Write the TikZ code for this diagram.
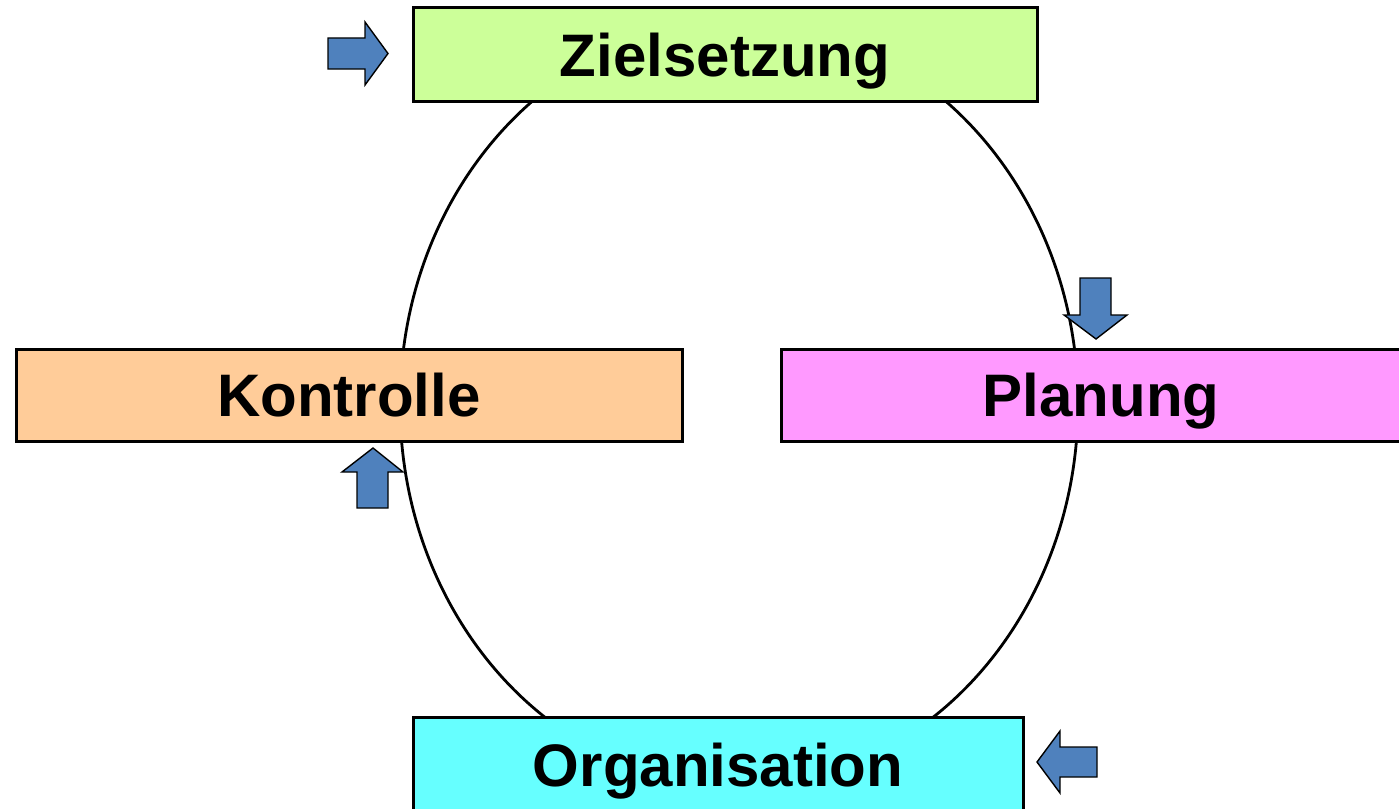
\documentclass[tikz,border=0pt]{standalone}
\usepackage{fontspec}
\setmainfont{Liberation Sans}
\begin{document}
\begin{tikzpicture}[x=1pt,y=-1pt,
  stage/.style={draw=black,line width=3pt,rectangle,inner sep=0pt,text depth=0pt,
    font=\fontsize{60}{60}\selectfont\bfseries},
  cycle/.style={draw=black,line width=2.8pt},
  flowarrow/.style={draw=black,line width=1.4pt,fill=arrowblue,line join=miter}]
\definecolor{arrowblue}{HTML}{4F81BD}
\definecolor{zielfill}{HTML}{CCFF99}
\definecolor{kontrfill}{HTML}{FFCC99}
\definecolor{planfill}{HTML}{FF99FF}
\definecolor{orgfill}{HTML}{66FFFF}
\useasboundingbox (0,0) rectangle (1399,808);
\clip (0,0) rectangle (1399,808);

% the cycle behind the stages
\draw[cycle] (739,404) ellipse [x radius=339pt, y radius=382pt];

% stages
\node[stage,fill=zielfill,minimum width=624pt,minimum height=93pt] (ziel) at (725,54.5) {Zielsetzung};
\node[stage,fill=kontrfill,minimum width=666pt,minimum height=92pt] (kontr) at (349,395) {Kontrolle};
\node[stage,fill=planfill,minimum width=640pt,minimum height=92pt] (plan) at (1101,395) {Planung};
\node[stage,fill=orgfill,minimum width=610pt,minimum height=96pt] (org) at (718,765) {Organisation};

% block arrows showing the direction of the cycle
\draw[flowarrow] (328,38) -- (365,38) -- (365,22) -- (388,53.5) -- (365,85) -- (365,69) -- (328,69) -- cycle;
\draw[flowarrow] (1080,278) -- (1111,278) -- (1111,315) -- (1127,315) -- (1096,339) -- (1064,315) -- (1080,315) -- cycle;
\draw[flowarrow] (1097,747) -- (1060,747) -- (1060,731) -- (1037,762) -- (1060,793) -- (1060,777) -- (1097,777) -- cycle;
\draw[flowarrow] (357,508) -- (357,472) -- (342,472) -- (373,448) -- (403,472) -- (388,472) -- (388,508) -- cycle;
\end{tikzpicture}
\end{document}
